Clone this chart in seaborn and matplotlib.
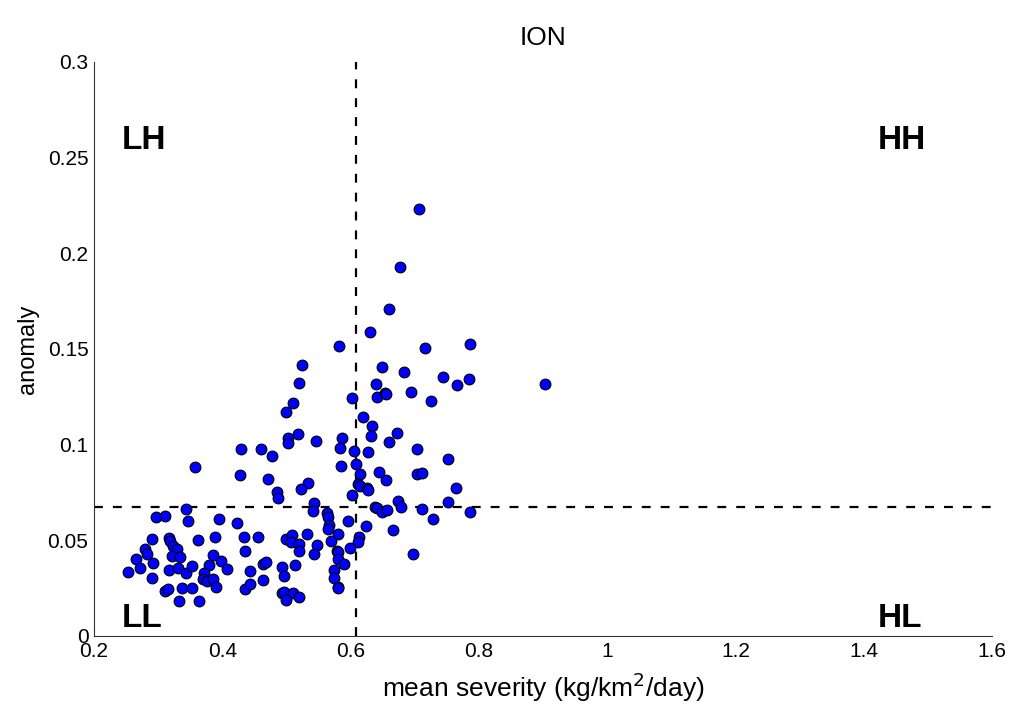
import matplotlib
matplotlib.use("Agg")
import matplotlib.pyplot as plt
import seaborn as sns
import pandas as pd

# mean severity / anomaly pairs
severity = [
    0.706, 0.677, 0.660, 0.631, 0.582, 0.716, 0.786, 0.524, 0.649, 0.520,
    0.640, 0.684, 0.744, 0.766, 0.784, 0.603, 0.641, 0.654, 0.655, 0.695,
    0.726, 0.510, 0.903, 0.499, 0.502, 0.502, 0.518, 0.429, 0.461, 0.478,
    0.358, 0.427, 0.471, 0.533, 0.523, 0.486, 0.487, 0.343, 0.296, 0.310,
    0.346, 0.395, 0.423, 0.290, 0.317, 0.319, 0.362, 0.389, 0.434, 0.455,
    0.499, 0.509, 0.507, 0.519, 0.520, 0.532, 0.280, 0.283, 0.323, 0.330,
    0.321, 0.334, 0.436, 0.386, 0.265, 0.292, 0.253, 0.272, 0.290, 0.317,
    0.331, 0.344, 0.353, 0.380, 0.398, 0.407, 0.371, 0.370, 0.376, 0.386,
    0.391, 0.443, 0.463, 0.468, 0.464, 0.493, 0.497, 0.514, 0.310, 0.315,
    0.337, 0.353, 0.435, 0.444, 0.493, 0.496, 0.510, 0.500, 0.519, 0.333,
    0.363, 0.619, 0.633, 0.632, 0.673, 0.660, 0.586, 0.546, 0.584, 0.606,
    0.627, 0.703, 0.752, 0.585, 0.608, 0.615, 0.644, 0.655, 0.704, 0.711,
    0.612, 0.615, 0.625, 0.627, 0.765, 0.603, 0.543, 0.541, 0.674, 0.678,
    0.752, 0.638, 0.642, 0.649, 0.657, 0.712, 0.787, 0.564, 0.565, 0.729,
    0.596, 0.567, 0.565, 0.624, 0.666, 0.580, 0.569, 0.613, 0.611, 0.547,
    0.599, 0.579, 0.581, 0.543, 0.581, 0.590, 0.698, 0.574, 0.575, 0.580,
    0.581,
]
anomaly = [
    0.2231, 0.1927, 0.1709, 0.1590, 0.1514, 0.1505, 0.1526, 0.1415, 0.1407, 0.1321,
    0.1315, 0.1380, 0.1355, 0.1312, 0.1343, 0.1244, 0.1247, 0.1268, 0.1265, 0.1277,
    0.1230, 0.1216, 0.1317, 0.1172, 0.1033, 0.1010, 0.1056, 0.0976, 0.0976, 0.0942,
    0.0885, 0.0841, 0.0819, 0.0798, 0.0768, 0.0754, 0.0720, 0.0664, 0.0622, 0.0629,
    0.0599, 0.0610, 0.0589, 0.0508, 0.0514, 0.0498, 0.0500, 0.0516, 0.0519, 0.0516,
    0.0508, 0.0529, 0.0493, 0.0479, 0.0446, 0.0534, 0.0456, 0.0427, 0.0470, 0.0456,
    0.0418, 0.0411, 0.0443, 0.0422, 0.0401, 0.0380, 0.0336, 0.0354, 0.0303, 0.0343,
    0.0354, 0.0329, 0.0366, 0.0369, 0.0392, 0.0352, 0.0328, 0.0299, 0.0289, 0.0298,
    0.0255, 0.0340, 0.0375, 0.0387, 0.0291, 0.0362, 0.0315, 0.0371, 0.0237, 0.0247,
    0.0251, 0.0251, 0.0246, 0.0270, 0.0223, 0.0232, 0.0226, 0.0188, 0.0202, 0.0181,
    0.0181, 0.1143, 0.1099, 0.1045, 0.1059, 0.1015, 0.1036, 0.1021, 0.0984, 0.0967,
    0.0962, 0.0979, 0.0923, 0.0888, 0.0897, 0.0848, 0.0855, 0.0814, 0.0847, 0.0853,
    0.0793, 0.0785, 0.0772, 0.0761, 0.0772, 0.0737, 0.0697, 0.0653, 0.0706, 0.0673,
    0.0699, 0.0674, 0.0669, 0.0650, 0.0657, 0.0662, 0.0648, 0.0641, 0.0623, 0.0610,
    0.0599, 0.0580, 0.0558, 0.0575, 0.0554, 0.0535, 0.0498, 0.0519, 0.0493, 0.0476,
    0.0458, 0.0446, 0.0437, 0.0429, 0.0402, 0.0378, 0.0427, 0.0346, 0.0303, 0.0255,
    0.0249,
]

# quadrant split (means) and axis ticks
split_x = 0.6085
split_y = 0.0675
x_ticks = [0.2, 0.4, 0.6, 0.8, 1.0, 1.2, 1.4, 1.6]
x_tick_labels = ["0.2", "0.4", "0.6", "0.8", "1", "1.2", "1.4", "1.6"]
y_ticks = [0, 0.05, 0.1, 0.15, 0.2, 0.25, 0.3]
y_tick_labels = ["0", "0.05", "0.1", "0.15", "0.2", "0.25", "0.3"]
quadrants = ["LH", "HH", "LL", "HL"]
quad_x = [0.244, 1.422, 0.244, 1.422]
quad_y = [0.259, 0.259, 0.009, 0.009]

sns.set_style("white")
plt.rcParams["font.family"] = ["Liberation Sans", "DejaVu Sans"]
plt.rcParams["text.color"] = "black"
plt.rcParams["axes.labelcolor"] = "black"

df = pd.DataFrame({"severity": severity, "anomaly": anomaly})

fig = plt.figure(figsize=(10.19, 7.09), dpi=100)
ax = fig.add_axes([0.0922, 0.103, 0.8813, 0.8096])

sns.scatterplot(data=df, x="severity", y="anomaly", ax=ax, s=60,
                color="#0000ff", edgecolor="black", linewidth=0.8, zorder=3)

ax.plot([split_x, split_x], [0, 0.3], color="black", lw=1.6,
        linestyle=(0, (4, 4.5)), zorder=2)
ax.plot([0.2, 1.6], [split_y, split_y], color="black", lw=1.6,
        linestyle=(0, (4, 4.5)), zorder=2)

for lab, qx, qy in zip(quadrants, quad_x, quad_y):
    ax.text(qx, qy, lab, fontsize=24, fontweight="bold", color="black",
            ha="left", va="center")

ax.set_xlim(0.2, 1.6)
ax.set_ylim(0, 0.3)
ax.set_xticks(x_ticks)
ax.set_xticklabels(x_tick_labels)
ax.set_yticks(y_ticks)
ax.set_yticklabels(y_tick_labels)
ax.tick_params(direction="in", length=6, width=0.8, colors="#333333",
               labelcolor="black", labelsize=15, pad=4)

for side in ["top", "right"]:
    ax.spines[side].set_visible(False)
for side in ["left", "bottom"]:
    ax.spines[side].set_color("#333333")
    ax.spines[side].set_linewidth(0.8)

ax.set_title("ION", fontsize=19, pad=12, color="black")
ax.set_xlabel("mean severity (kg/km$^2$/day)", fontsize=19, labelpad=7)
ax.set_ylabel("anomaly", fontsize=17, labelpad=6)

fig.savefig("out.png", dpi=100)
